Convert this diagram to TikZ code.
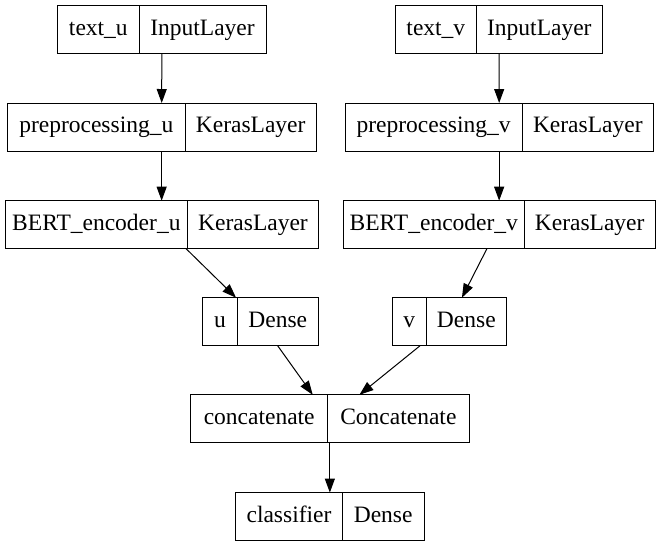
\documentclass[tikz,border=0pt]{standalone}
\usepackage{fontspec}
\setmainfont{Liberation Serif}
\usetikzlibrary{arrows.meta}
\tikzset{
  recbox/.style={draw=black, fill=white, line width=1pt, inner sep=0pt, outer sep=0pt, minimum height=48pt, rectangle},
  lbl/.style={anchor=base, inner sep=0pt, font=\fontsize{23.5}{28}\selectfont},
  divline/.style={draw=black, line width=1pt},
  flow/.style={draw=black, line width=1pt, -{Triangle[length=14pt,width=10pt]}},
}
\newcommand\krec[7]{%
  \node[recbox, minimum width={(#4-#2)*1pt}] (#1) at ({(#2+#4)/2},#5) {};
  \draw[divline] (#3,{#5-24}) -- (#3,{#5+24});
  \node[lbl] (#1-l) at ({(#2+#3)/2},{#5+5.4}) {#6};
  \node[lbl] (#1-r) at ({(#3+#4)/2},{#5+5.4}) {#7};
}
\begin{document}
\begin{tikzpicture}[x=1pt,y=-1pt]
  \fill[white] (0,0) rectangle (661,547);
  \useasboundingbox (0,0) rectangle (661,547);
  \krec{tu}{57.7}{139}{266}{29.7}{text\_u}{InputLayer}
  \krec{tv}{395.7}{476}{602.7}{29.7}{text\_v}{InputLayer}
  \krec{pu}{7.3}{185.3}{316}{127}{preprocessing\_u}{KerasLayer}
  \krec{pv}{345}{522.3}{653.3}{127}{preprocessing\_v}{KerasLayer}
  \krec{bu}{5}{187.7}{318.3}{224.7}{BERT\_encoder\_u}{KerasLayer}
  \krec{bv}{343.3}{524.3}{655}{224.7}{BERT\_encoder\_v}{KerasLayer}
  \krec{du}{202.7}{237.3}{318.3}{321.7}{u}{Dense}
  \krec{dv}{392.7}{426}{506.7}{321.7}{v}{Dense}
  \krec{cc}{190.7}{327.7}{469}{418.8}{concatenate}{Concatenate}
  \krec{cl}{235.7}{342.3}{424}{516.6}{classifier}{Dense}
  \draw[flow] (tu) -- (pu);
  \draw[flow] (tv) -- (pv);
  \draw[flow] (pu) -- (bu);
  \draw[flow] (pv) -- (bv);
  \draw[flow] (bu) -- (du);
  \draw[flow] (bv) -- (dv);
  \draw[flow] (du) -- (cc);
  \draw[flow] (dv) -- (cc);
  \draw[flow] (cc) -- (cl);
\end{tikzpicture}
\end{document}
